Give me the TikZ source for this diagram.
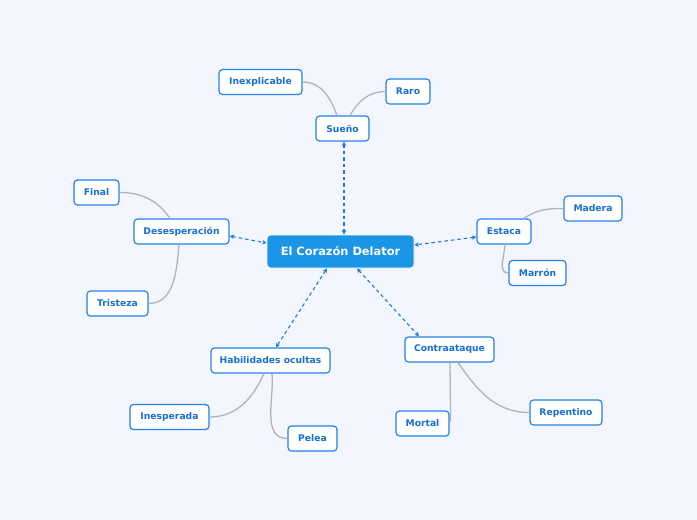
\documentclass[tikz,border=0pt]{standalone}
\usepackage{fontspec}
\setmainfont{DejaVu Sans}
\usetikzlibrary{arrows.meta}
\definecolor{bgc}{RGB}{243,246,254}
\definecolor{bord}{RGB}{38,128,230}
\definecolor{txtc}{RGB}{22,112,214}
\definecolor{rootc}{RGB}{27,150,231}
\definecolor{dashc}{RGB}{32,122,222}
\definecolor{greyc}{RGB}{178,180,188}
\tikzset{
  child/.style={draw=bord, line width=1.2pt, fill=white, rounded corners=3.5pt,
    minimum height=25pt, inner sep=0pt, text=txtc,
    font=\fontsize{9.2}{10}\selectfont\bfseries},
  rootbox/.style={fill=rootc, draw=white, line width=0.8pt, rounded corners=3.5pt,
    minimum width=147pt, minimum height=33pt, inner sep=0pt, text=white,
    font=\fontsize{11.4}{12}\selectfont\bfseries},
  link/.style={draw=dashc, line width=1.1pt, dash pattern=on 3.5pt off 3pt,
    {Stealth[length=4.5pt,width=4.5pt]}-{Stealth[length=4.5pt,width=4.5pt]}},
  branch/.style={draw=greyc, line width=1.3pt},
}
\begin{document}
\begin{tikzpicture}[x=1pt,y=-1pt]
\fill[bgc] (0,0) rectangle (697,520);
\useasboundingbox (0,0) rectangle (697,520);

\node[rootbox] (root) at (340.5,251.5) {El Corazón Delator};

\node[child, minimum width=53pt] (sue) at (342.5,128.5) {Sueño};
\node[child, minimum width=83pt] (inx) at (260.5,82) {Inexplicable};
\node[child, minimum width=44pt] (raro) at (408,91.5) {Raro};

\node[child, minimum width=95pt] (des) at (181.5,231.5) {Desesperación};
\node[child, minimum width=45pt] (fin) at (96.5,192.5) {Final};
\node[child, minimum width=61pt] (tri) at (117.5,303.5) {Tristeza};

\node[child, minimum width=54pt] (est) at (504,231.5) {Estaca};
\node[child, minimum width=58pt] (mad) at (593,208.5) {Madera};
\node[child, minimum width=57pt] (mar) at (537.5,273) {Marrón};

\node[child, minimum width=119pt] (hab) at (270.5,360.5) {Habilidades ocultas};
\node[child, minimum width=79pt] (ine) at (169.5,417) {Inesperada};
\node[child, minimum width=49pt] (pel) at (312.5,438.5) {Pelea};

\node[child, minimum width=89pt] (con) at (449.5,349.5) {Contraataque};
\node[child, minimum width=53pt] (mor) at (422.5,423.5) {Mortal};
\node[child, minimum width=72pt] (rep) at (566,412.5) {Repentino};

% dashed links
\draw[link] ([xshift=1.5pt]sue.south) -- ([xshift=3.5pt]root.north);
\draw[link] ([yshift=-4.5pt]des.east) -- ([yshift=8.5pt]root.west);
\draw[link] ([yshift=-5.5pt]est.west) -- ([yshift=6.5pt]root.east);
\draw[link] ([xshift=-13.5pt]root.south) -- ([xshift=5.5pt]hab.north);
\draw[link] ([xshift=16.5pt]root.south) -- ([xshift=-30.5pt]con.north);

% grey branches
\draw[branch] ([xshift=-5.5pt]sue.north) to[out=110,in=0] (inx.east);
\draw[branch] ([xshift=7.5pt]sue.north) to[out=60,in=180] (raro.west);
\draw[branch] ([xshift=-11.5pt]des.north) to[out=125,in=0] (fin.east);
\draw[branch] ([xshift=-2.5pt]des.south) to[out=-95,in=0] (tri.east);
\draw[branch] ([xshift=20pt]est.north) to[out=35,in=180] (mad.west);
\draw[branch] ([xshift=1pt]est.south) to[out=-92,in=180] (mar.west);
\draw[branch] ([xshift=-6.5pt]hab.south) to[out=-115,in=0] (ine.east);
\draw[branch] ([xshift=1.5pt]hab.south) to[out=-85,in=180] (pel.west);
\draw[branch] ([xshift=0.5pt]con.south) -- ([xshift=1pt,yshift=2.5pt]mor.east);
\draw[branch] ([xshift=8.5pt]con.south) to[out=-55,in=180] (rep.west);
\end{tikzpicture}
\end{document}
